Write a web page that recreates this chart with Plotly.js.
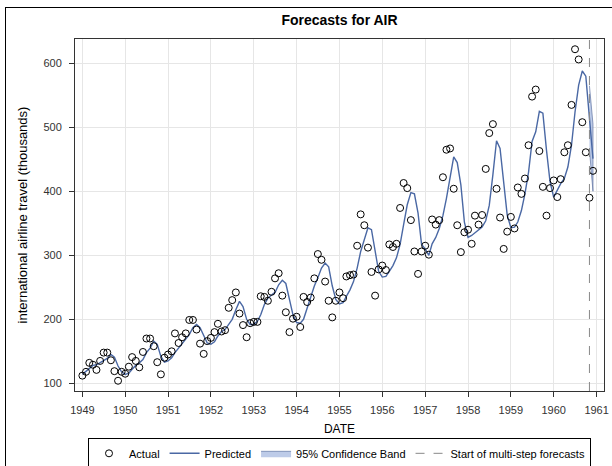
<!DOCTYPE html>
<html><head><meta charset="utf-8">
<script src="https://cdn.plot.ly/plotly-3.0.1.min.js"></script>
<style>
html,body{margin:0;padding:0;background:#fff;overflow:hidden;width:612px;height:466px}
#frame{position:absolute;left:5px;top:7px;width:700px;height:600px;border:1px solid #000;}
#chart{position:absolute;left:0;top:0;width:612px;height:466px}
</style></head><body>
<div id="frame"></div>
<div id="chart"></div>
<script>
const startYear = 1949;
const actual = [
 112,118,132,129,121,135,148,148,136,119,104,118,
 115,126,141,135,125,149,170,170,158,133,114,140,
 145,150,178,163,172,178,199,199,184,162,146,166,
 171,180,193,181,183,218,230,242,209,191,172,194,
 196,196,236,235,229,243,264,272,237,211,180,201,
 204,188,235,227,234,264,302,293,259,229,203,229,
 242,233,267,269,270,315,364,347,312,274,237,278,
 284,277,317,313,318,374,413,405,355,306,271,306,
 315,301,356,348,355,422,465,467,404,347,305,336,
 340,318,362,348,363,435,491,505,404,359,310,337,
 360,342,406,396,420,472,548,559,463,407,362,405,
 417,391,419,461,472,535,622,606,508,461,390,432
];
const predicted = [
 114,119,124,128,129,132,136,139,145,141,127,118,
 114,116,122,128,132,137,148,155,166,161,142,133,
 135,140,148,155,162,168,176,187,192,187,174,163,
 161,165,174,181,184,192,200,215,228,220,200,192,
 192,197,207,223,233,238,242,254,261,256,233,207,
 195,194,200,218,236,252,265,280,288,282,252,231,
 224,226,236,246,259,280,306,325,343,340,309,275,
 266,267,275,284,296,317,348,379,398,396,366,317,
 310,300,318,328,342,362,389,420,454,445,410,352,
 328,331,335,340,344,354,378,426,479,467,415,363,
 343,344,352,370,396,430,478,493,525,522,464,415,
 391,402,412,420,438,472,524,566,588,580,514,451
];
const bandDates = ['1960-11-01','1960-12-01'];
const bandLower = [465, 400];
const bandUpper = [565, 505];
const forecastStart = '1960-11-01';
const yTicks = [100,200,300,400,500,600];

const dates = actual.map((_, i) => {
  const y = startYear + Math.floor(i / 12);
  const m = i % 12 + 1;
  return y + '-' + String(m).padStart(2, '0') + '-01';
});

const FONT = 'Liberation Sans, Arial, sans-serif';
const traces = [
  {
    x: bandDates.concat(bandDates.slice().reverse()),
    y: bandLower.concat(bandUpper.slice().reverse()),
    type: 'scatter', mode: 'lines', fill: 'toself',
    fillcolor: 'rgba(167,185,224,0.75)',
    line: {color: 'rgba(100,120,165,0.9)', width: 0.8},
    name: '95% Confidence Band', legendrank: 3, hoverinfo: 'skip'
  },
  {
    x: dates, y: predicted, type: 'scatter', mode: 'lines',
    line: {color: '#4a68a4', width: 1.4},
    name: 'Predicted', legendrank: 2
  },
  {
    x: dates, y: actual, type: 'scatter', mode: 'markers',
    marker: {symbol: 'circle-open', size: 7, color: '#000', line: {width: 1, color: '#000'}},
    name: 'Actual', legendrank: 1
  }
];

const layout = {
  width: 612, height: 466,
  paper_bgcolor: 'rgba(0,0,0,0)', plot_bgcolor: '#fff',
  margin: {l: 75, r: 8, t: 39, b: 75, autoexpand: false},
  font: {family: FONT, size: 11, color: '#333'},
  title: {text: '<b>Forecasts for AIR</b>', font: {family: FONT, size: 14, color: '#000'},
          x: 0.5, xref: 'paper', xanchor: 'center', y: 1 - 20/466, yref: 'container', yanchor: 'middle'},
  showlegend: true,
  legend: {orientation: 'h', x: 0.5, xanchor: 'center', y: -0.133, yanchor: 'top',
           bordercolor: '#000', borderwidth: 1, font: {family: FONT, size: 11, color: '#000'},
           bgcolor: '#fff', traceorder: 'normal'},
  xaxis: {
    type: 'date', range: ['1948-10-30', '1961-03-05'],
    tick0: '1949-01-01', dtick: 'M12', tickformat: '%Y',
    ticks: 'outside', ticklen: 5, tickcolor: '#333', ticklabelstandoff: 4,
    showline: true, linecolor: '#333', linewidth: 1, mirror: true,
    showgrid: true, gridcolor: '#e6e6e6', zeroline: false,
    tickfont: {size: 11, color: '#333'},
    title: {text: 'DATE', font: {size: 12, color: '#000'}, standoff: 9}
  },
  yaxis: {
    range: [88, 638], tickvals: yTicks,
    ticks: 'outside', ticklen: 5, tickcolor: '#333', ticklabelstandoff: 5,
    showline: true, linecolor: '#333', linewidth: 1, mirror: true,
    showgrid: true, gridcolor: '#e6e6e6', zeroline: false,
    tickfont: {size: 11, color: '#333'},
    title: {text: 'international airline travel (thousands)', font: {size: 13, color: '#000'}, standoff: 12}
  },
  shapes: [{
    type: 'line', xref: 'x', yref: 'paper',
    x0: forecastStart, x1: forecastStart, y0: 0, y1: 1,
    line: {color: '#888', width: 1, dash: 'dash'},
    showlegend: true, name: 'Start of multi-step forecasts', legendrank: 4
  }]
};

Plotly.newPlot('chart', traces, layout, {displayModeBar: false, staticPlot: true});
</script>
</body></html>
